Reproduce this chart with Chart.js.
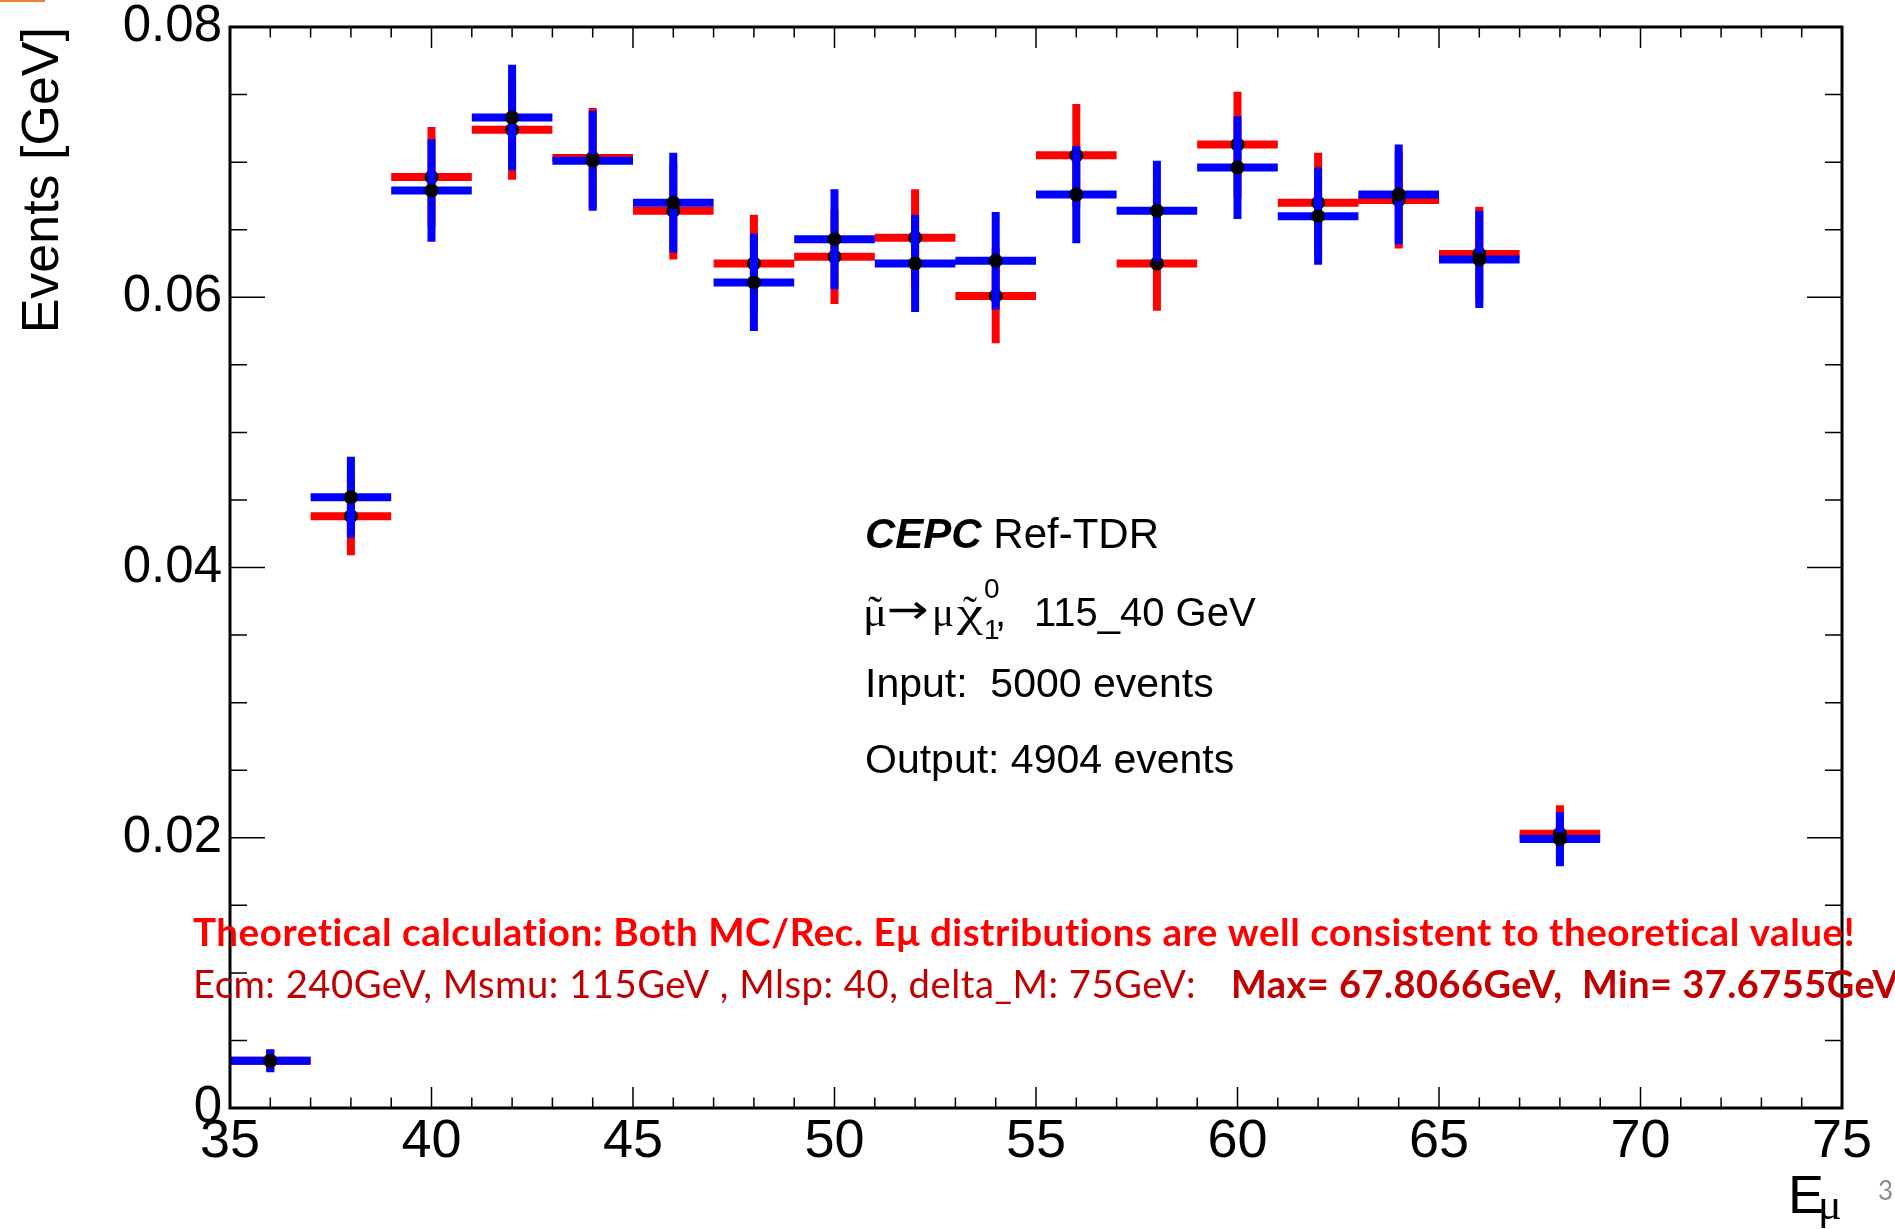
<!DOCTYPE html>
<html>
<head>
<meta charset="utf-8">
<title>E_mu distribution, CEPC Ref-TDR</title>
<script src="https://cdn.jsdelivr.net/npm/chart.js@4.4.1/dist/chart.umd.min.js"></script>
<style>
  html, body { margin: 0; padding: 0; background: #ffffff; }
  #wrap { width: 1895px; height: 1229px; position: relative; }
</style>
</head>
<body>
<div id="wrap"><canvas id="chart" width="1895" height="1229"></canvas></div>
<script>
// Bins of the histogram (GeV)
const binCenters = [36, 38, 40, 42, 44, 46, 48, 50, 52, 54, 56, 58, 60, 62, 64, 66, 68];
const binWidth = 2;

// MC truth (red)
const mcValues = [0.0035, 0.0438, 0.0689, 0.0724, 0.0703, 0.0664, 0.0625, 0.0630, 0.0644,
  0.0601, 0.0705, 0.0625, 0.0713, 0.0670, 0.0672, 0.0632, 0.0203];
const mcErrors = [0.0008, 0.0029, 0.0037, 0.0037, 0.0037, 0.0036, 0.0036, 0.0035, 0.0036,
  0.0035, 0.0038, 0.0035, 0.0039, 0.0037, 0.0036, 0.0035, 0.0021];

// Reconstructed (blue)
const recValues = [0.0035, 0.0452, 0.0679, 0.0733, 0.0701, 0.0670, 0.0611, 0.0643, 0.0625,
  0.0627, 0.0676, 0.0664, 0.0696, 0.0660, 0.0676, 0.0628, 0.0199];
const recErrors = [0.00085, 0.0030, 0.0038, 0.0039, 0.0037, 0.0037, 0.0036, 0.0037, 0.0036,
  0.0036, 0.0036, 0.0037, 0.0038, 0.0036, 0.0037, 0.0036, 0.0020];

// Axis ranges and ticks
const xRange = [35, 75];
const xMinorStep = 1;
const xMajorStep = 5;
const yRange = [0, 0.08];
const yMinorStep = 0.005;
const yMajorStep = 0.02;

const infoLines = ["Input:  5000 events", "Output: 4904 events"];
const noteLine1 = "Theoretical calculation: Both MC/Rec. E\u03bc distributions are well consistent to theoretical value!";
const noteLine2a = "Ecm: 240GeV, Msmu: 115GeV , Mlsp: 40, delta_M: 75GeV:";
const noteLine2b = "Max= 67.8066GeV,  Min= 37.6755GeV";

const sans = '"Liberation Sans", Arial, sans-serif';
const serif = '"Liberation Serif", "DejaVu Serif", serif';

// Horizontal bars spanning each bin, broken by null points
function binBars(values) {
  let pts = [];
  for (let i = 0; i < binCenters.length; i++) {
    pts.push({ x: binCenters[i] - binWidth / 2, y: values[i] });
    pts.push({ x: binCenters[i] + binWidth / 2, y: values[i] });
    pts.push({ x: binCenters[i] + binWidth / 2, y: null });
  }
  return pts;
}

// Vertical error bars
function errorBars(values, errors) {
  let pts = [];
  for (let i = 0; i < binCenters.length; i++) {
    pts.push({ x: binCenters[i], y: values[i] - errors[i] });
    pts.push({ x: binCenters[i], y: values[i] + errors[i] });
    pts.push({ x: binCenters[i], y: null });
  }
  return pts;
}

function markers(values) {
  return binCenters.map((c, i) => ({ x: c, y: values[i] }));
}

function lineSet(data, color, order) {
  return {
    data: data,
    borderColor: color,
    borderWidth: 8,
    borderCapStyle: "butt",
    pointRadius: 0,
    fill: false,
    tension: 0,
    spanGaps: false,
    order: order,
  };
}

function markerSet(data, order) {
  return {
    data: data,
    showLine: false,
    pointRadius: 7,
    pointBackgroundColor: "#000000",
    pointBorderWidth: 0,
    order: order,
  };
}

function isMajor(v, step) {
  const k = v / step;
  return Math.abs(k - Math.round(k)) < 1e-6;
}

// ROOT style frame with inward ticks on all four sides
const rootFrame = {
  id: "rootFrame",
  afterDatasetsDraw(chart) {
    const { ctx, chartArea: a, scales } = chart;
    ctx.save();
    ctx.strokeStyle = "#000000";
    ctx.lineWidth = 1.5;
    ctx.beginPath();
    for (const t of scales.x.ticks) {
      const px = scales.x.getPixelForValue(t.value);
      const len = t.label !== "" ? 21 : 10.5;
      ctx.moveTo(px, a.bottom);
      ctx.lineTo(px, a.bottom - len);
      ctx.moveTo(px, a.top);
      ctx.lineTo(px, a.top + len);
    }
    for (const t of scales.y.ticks) {
      const py = scales.y.getPixelForValue(t.value);
      const len = t.label !== "" ? 35 : 17;
      ctx.moveTo(a.left, py);
      ctx.lineTo(a.left + len, py);
      ctx.moveTo(a.right, py);
      ctx.lineTo(a.right - len, py);
    }
    ctx.stroke();
    ctx.lineWidth = 3;
    ctx.strokeRect(a.left, a.top, a.right - a.left, a.bottom - a.top);
    ctx.restore();
  },
};

// Squeeze text horizontally into a given width (Calibri substitute)
function fitText(ctx, text, x, y, font, color, width) {
  ctx.save();
  ctx.font = font;
  ctx.letterSpacing = "0.5px"; // also turns off the "ti" ligature of Lato
  const natural = ctx.measureText(text).width;
  ctx.translate(x, y);
  ctx.scale(width / natural, 1);
  ctx.fillStyle = color;
  ctx.textAlign = "left";
  ctx.textBaseline = "alphabetic";
  ctx.fillText(text, 0, 0);
  ctx.restore();
}

const annotations = {
  id: "annotations",
  afterDraw(chart) {
    const { ctx } = chart;
    ctx.save();
    ctx.fillStyle = "#000000";
    ctx.textAlign = "left";
    ctx.textBaseline = "alphabetic";

    // CEPC label block
    const x0 = 865;
    ctx.font = "italic bold 42px " + sans;
    ctx.fillText("CEPC", x0, 548);
    const w = ctx.measureText("CEPC").width;
    ctx.font = "42px " + sans;
    ctx.fillText(" Ref-TDR", x0 + w, 548);

    // process line: mu~ -> mu chi~_1^0, 115_40 GeV
    const base = 626;
    const glyph = (s, gx, width, tilde) => {
      ctx.font = "42px " + serif;
      const gw = ctx.measureText(s).width;
      ctx.save();
      ctx.translate(gx, base);
      ctx.scale(width / gw, 1);
      ctx.fillText(s, 0, 0);
      ctx.restore();
      if (tilde) {
        ctx.textAlign = "center";
        ctx.fillText("\u02dc", gx + width / 2, base - 1);
        ctx.textAlign = "left";
      }
    };
    glyph("\u03bc", x0 - 2, 24, true);
    // arrow from DejaVu Sans, stretched to the Symbol-font length
    ctx.font = '40px "DejaVu Sans"';
    const aw = ctx.measureText("\u2192").width;
    ctx.save();
    ctx.translate(x0 + 22, base - 3);
    ctx.scale(42 / aw, 1);
    ctx.fillText("\u2192", 0, 0);
    ctx.restore();
    glyph("\u03bc", x0 + 67, 22, false);
    glyph("\u03c7", x0 + 92, 26, true);
    ctx.font = "28px " + sans;
    ctx.fillText("0", x0 + 119, base - 28);
    ctx.fillText("1", x0 + 119, base + 13);
    ctx.font = "40px " + sans;
    ctx.fillText(",", x0 + 130, base);
    ctx.fillText("115_40 GeV", x0 + 169, base);

    ctx.font = "41px " + sans;
    ctx.fillText(infoLines[0], x0, 697);
    ctx.fillText(infoLines[1], x0, 773);

    // axis title E_mu
    ctx.font = "54px " + sans;
    ctx.fillText("E", 1788, 1213);
    ctx.font = "44px " + serif;
    ctx.fillText("\u03bc", 1818, 1219);

    // red notes
    fitText(ctx, noteLine1, 193, 946, "bold 38px Lato", "#ff0000", 1662);
    fitText(ctx, noteLine2a, 193, 998, "38px Lato", "#c00000", 1003);
    fitText(ctx, noteLine2b, 1231, 998, "bold 38px Lato", "#c00000", 668);

    // slide decoration and page number
    ctx.fillStyle = "#ed7d31";
    ctx.fillRect(0, 0, 45, 2);
    ctx.fillStyle = "#8c8c8c";
    ctx.font = "26px Lato";
    ctx.fillText("3", 1878, 1200);
    ctx.restore();
  },
};

const elem = document.getElementById("chart");
new Chart(elem, {
  type: "line",
  data: {
    datasets: [
      lineSet(binBars(mcValues), "#ff0000", 6),
      lineSet(errorBars(mcValues, mcErrors), "#ff0000", 5),
      markerSet(markers(mcValues), 4),
      lineSet(binBars(recValues), "#0000ff", 3),
      lineSet(errorBars(recValues, recErrors), "#0000ff", 2),
      markerSet(markers(recValues), 1),
    ],
  },
  options: {
    responsive: false,
    animation: false,
    events: [],
    layout: { padding: { top: 27, right: 53, left: 0, bottom: 0 } },
    plugins: {
      legend: { display: false },
      tooltip: { enabled: false },
    },
    scales: {
      x: {
        type: "linear",
        min: xRange[0],
        max: xRange[1],
        grid: { display: false, drawTicks: false },
        border: { display: false },
        ticks: {
          stepSize: xMinorStep,
          autoSkip: false,
          maxRotation: 0,
          padding: 2,
          color: "#000000",
          font: { family: sans, size: 54 },
          callback: (v) => (isMajor(v, xMajorStep) ? String(v) : ""),
        },
        afterFit: (s) => {
          s.height = 121;
          s.paddingLeft = 0;
          s.paddingRight = 0;
        },
      },
      y: {
        min: yRange[0],
        max: yRange[1],
        grid: { display: false, drawTicks: false },
        border: { display: false },
        ticks: {
          stepSize: yMinorStep,
          autoSkip: false,
          padding: 8,
          color: "#000000",
          font: { family: sans, size: 51 },
          callback: (v) => (isMajor(v, yMajorStep) ? (v === 0 ? "0" : v.toFixed(2)) : ""),
        },
        title: {
          display: true,
          text: "Events [GeV]",
          align: "end",
          color: "#000000",
          font: { family: sans, size: 52 },
          padding: { top: 12, bottom: 0 },
        },
        afterFit: (s) => {
          s.width = 230;
          s.paddingTop = 0;
          s.paddingBottom = 0;
        },
      },
    },
  },
  plugins: [rootFrame, annotations],
});
</script>
</body>
</html>
